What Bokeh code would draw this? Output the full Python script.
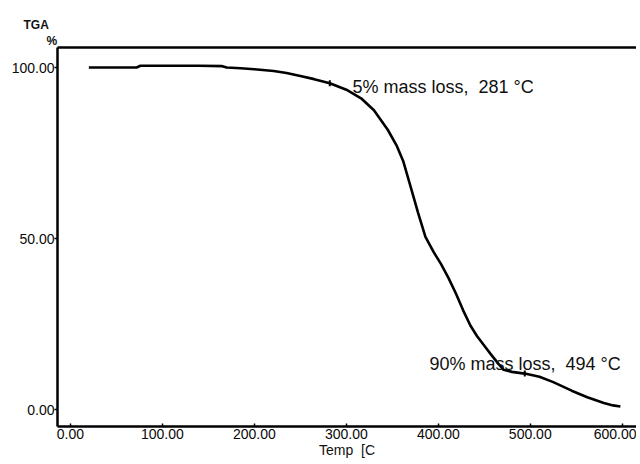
import numpy as np
from bokeh.plotting import figure
from bokeh.models import (Range1d, FixedTicker, NumeralTickFormatter, Label,
                          LinearAxis, ColumnDataSource, Title)
from bokeh.embed import file_html
from bokeh.resources import INLINE

# ---- data ----
temps = [20, 50, 72, 76, 100, 140, 165, 170, 185, 200, 221, 235, 250, 265, 282,
         300, 316, 330, 345, 355, 362, 370, 378, 386, 395, 403, 411, 419, 427,
         435, 442, 449, 457, 465, 471, 480, 494, 510, 525, 545, 562, 580, 590, 598]
mass = [100.0, 100.0, 100.0, 100.5, 100.5, 100.5, 100.4, 100.0, 99.8, 99.5, 99.0,
        98.4, 97.5, 96.6, 95.4, 93.5, 91.0, 87.5, 81.8, 77.0, 72.5, 65.0, 57.5,
        50.5, 46.0, 42.5, 38.5, 34.0, 29.0, 24.5, 21.5, 19.0, 16.2, 13.5, 11.6,
        11.0, 10.5, 9.6, 8.0, 5.5, 3.6, 1.9, 1.2, 0.9]
event_temps = [282, 494]
event_mass = [95.4, 10.5]
event_texts = ["5% mass loss,\u00a0 281 \u00b0C", "90% mass loss,\u00a0 494 \u00b0C"]
x_ticks = [0, 100, 200, 300, 400, 500, 600]
y_ticks = [0, 50, 100]

FONT = "Liberation Sans"

p = figure(width=636, height=462, output_backend="svg", toolbar_location=None,
           x_range=Range1d(-14.1, 615.5), y_range=Range1d(-4.97, 105.85),
           min_border_left=57, min_border_right=0, min_border_top=47,
           min_border_bottom=36)
p.outline_line_color = None
p.grid.visible = False
p.background_fill_color = "white"
p.border_fill_color = "white"

src = ColumnDataSource(dict(t=temps, m=mass))
p.line("t", "m", source=src, line_color="black", line_width=2.6)
p.scatter(event_temps, event_mass, marker="dash", angle=np.pi / 2, size=6,
          line_color="black", line_width=2)

# axes styling
xa = p.xaxis[0]
xa.ticker = FixedTicker(ticks=x_ticks)
xa.formatter = NumeralTickFormatter(format="0.00")
xa.axis_label = "Temp\u00a0 [C"
xa.axis_label_text_font = FONT
xa.axis_label_text_font_size = "14px"
xa.axis_label_text_font_style = "normal"
xa.axis_label_text_color = "#111111"
xa.axis_label_standoff = 0
xa.major_label_standoff = 2
xa.major_tick_in = 3
xa.major_tick_out = 0
xa.minor_tick_line_color = None

ya = p.yaxis[0]
ya.ticker = FixedTicker(ticks=y_ticks)
ya.formatter = NumeralTickFormatter(format="0.00")
ya.major_label_standoff = 0
ya.major_tick_in = 0
ya.major_tick_out = 3
ya.minor_tick_line_color = None

for ax in (xa, ya):
    ax.axis_line_width = 2.5
    ax.axis_line_color = "black"
    ax.major_tick_line_color = "black"
    ax.major_tick_line_width = 1.5
    ax.major_label_text_font = FONT
    ax.major_label_text_font_size = "14px"
    ax.major_label_text_color = "#0a0a0a"

# top border line
top = LinearAxis(ticker=FixedTicker(ticks=[]), major_label_text_font_size="0px",
                 major_tick_line_color=None, minor_tick_line_color=None,
                 axis_line_width=2.5, axis_line_color="black")
p.add_layout(top, "above")

# y-axis unit labels at top left (as titles above the frame)
p.add_layout(Title(text="%", align="left", offset=-11, standoff=0,
                   text_font=FONT, text_font_size="12px", text_font_style="bold",
                   text_color="#111111"), "above")
p.add_layout(Title(text="TGA", align="left", offset=-34, standoff=0,
                   text_font=FONT, text_font_size="12px", text_font_style="bold",
                   text_color="#111111"), "above")

# annotations
p.add_layout(Label(x=306.7, y=94.2, text=event_texts[0], text_font=FONT,
                   text_font_size="18px", text_color="#111111",
                   text_baseline="alphabetic"))
p.add_layout(Label(x=390.4, y=13.45, text=event_texts[1], text_font=FONT,
                   text_font_size="18px", text_color="#111111",
                   text_baseline="alphabetic"))

open("out.html", "w").write(file_html(p, INLINE))
